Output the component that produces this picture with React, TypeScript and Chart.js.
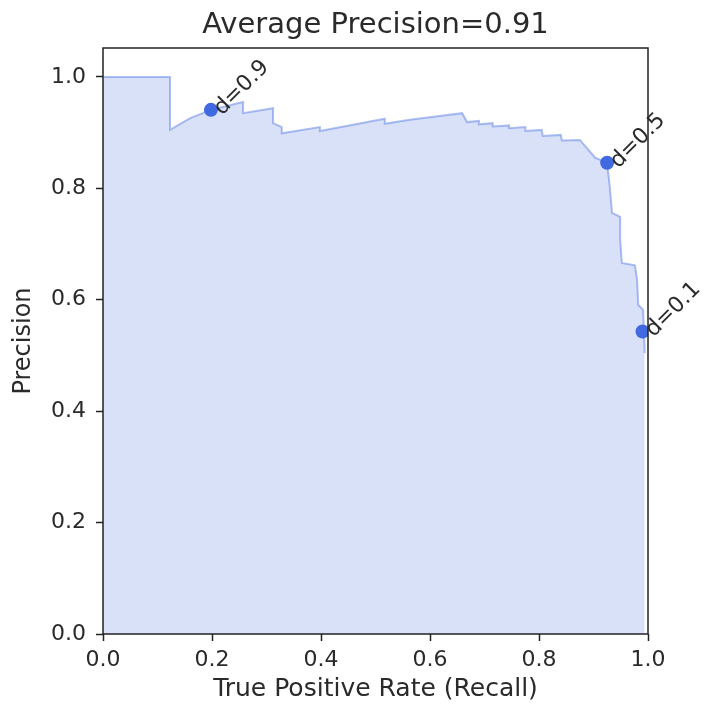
import React, { useEffect, useRef } from "react";
import { Chart, registerables } from "chart.js";

Chart.register(...registerables);

const recall = [
  0, 0.123, 0.123, 0.16, 0.198, 0.257, 0.257, 0.312, 0.312, 0.328, 0.328, 0.398, 0.398,
  0.517, 0.517, 0.563, 0.659, 0.668, 0.69, 0.69, 0.715, 0.715, 0.745, 0.745, 0.775, 0.775,
  0.805, 0.807, 0.84, 0.842, 0.875,
  0.903, 0.925, 0.927, 0.93, 0.934, 0.949, 0.949, 0.952, 0.976, 0.98, 0.982, 0.991, 0.994,
];
const precision = [
  1.0, 1.0, 0.905, 0.926, 0.941, 0.955, 0.935, 0.944, 0.917, 0.91, 0.899, 0.91, 0.903,
  0.925, 0.916, 0.923, 0.935, 0.919, 0.921, 0.915, 0.917, 0.911, 0.913, 0.908, 0.91, 0.903,
  0.905, 0.894, 0.896, 0.886, 0.887,
  0.855, 0.846, 0.828, 0.802, 0.756, 0.749, 0.707, 0.666, 0.662, 0.636, 0.591, 0.582, 0.504,
];

const thresholdLabels = ["d=0.9", "d=0.5", "d=0.1"];
const thresholdRecall = [0.198, 0.925, 0.99];
const thresholdPrecision = [0.941, 0.846, 0.543];

const xTicks = [0, 0.2, 0.4, 0.6, 0.8, 1.0];
const yTicks = [0, 0.2, 0.4, 0.6, 0.8, 1.0];

const titleText = "Average Precision=0.91";
const xTitle = "True Positive Rate (Recall)";
const yTitle = "Precision";

const FONT = "'DejaVu Sans', sans-serif";
const TEXT = "#2a2a2a";

export default function App() {
  const ref = useRef<HTMLCanvasElement | null>(null);

  useEffect(() => {
    if (!ref.current) return;

    const framePlugin = {
      id: "frame",
      afterDatasetsDraw(chart: any) {
        const { ctx, chartArea } = chart;
        ctx.save();
        ctx.strokeStyle = "#222";
        ctx.lineWidth = 1.5;
        ctx.strokeRect(chartArea.left, chartArea.top, chartArea.right - chartArea.left, chartArea.bottom - chartArea.top);
        ctx.restore();
        const meta = chart.getDatasetMeta(1);
        ctx.save();
        ctx.fillStyle = TEXT;
        ctx.font = `22px ${FONT}`;
        ctx.textAlign = "left";
        ctx.textBaseline = "middle";
        meta.data.forEach((el: any, i: number) => {
          ctx.save();
          ctx.translate(el.x + 7, el.y + 2);
          ctx.rotate(-Math.PI / 4);
          ctx.fillText(thresholdLabels[i], 0, 0);
          ctx.restore();
        });
        ctx.restore();
      },
    };

    const chart = new Chart(ref.current, {
      type: "scatter",
      data: {
        datasets: [
          {
            data: recall.map((r, i) => ({ x: r, y: precision[i] })),
            showLine: true,
            borderColor: "rgba(65,105,225,0.42)",
            backgroundColor: "rgba(65,105,225,0.2)",
            borderWidth: 2,
            pointRadius: 0,
            fill: "origin",
            tension: 0,
          },
          {
            data: thresholdRecall.map((r, i) => ({ x: r, y: thresholdPrecision[i] })),
            showLine: false,
            pointRadius: 7,
            pointBackgroundColor: "#4169e1",
            pointBorderWidth: 0,
            backgroundColor: "#4169e1",
            clip: 0,
          },
        ],
      },
      options: {
        responsive: false,
        animation: false,
        layout: { padding: { left: 0, right: 60, top: 0, bottom: 0 } },
        plugins: {
          legend: { display: false },
          tooltip: { enabled: false },
          title: {
            display: true,
            text: titleText,
            fullSize: false,
            color: TEXT,
            font: { family: FONT, size: 29, weight: "normal" },
            padding: { top: 7.6, bottom: 5.6 },
          },
        },
        scales: {
          x: {
            type: "linear",
            min: 0,
            max: 1,
            afterBuildTicks: (s: any) => {
              s.ticks = xTicks.map((v) => ({ value: v }));
            },
            afterFit: (s: any) => {
              s.height = 70;
            },
            ticks: {
              color: TEXT,
              font: { family: FONT, size: 22 },
              padding: 6,
              callback: (v: any) => Number(v).toFixed(1),
            },
            grid: { drawOnChartArea: false, tickLength: 7, color: "#222", tickWidth: 1.5 },
            border: { display: false },
            title: {
              display: true,
              text: xTitle,
              color: TEXT,
              font: { family: FONT, size: 25 },
              padding: { top: 0, bottom: 0 },
            },
          },
          y: {
            type: "linear",
            min: 0,
            max: 1.052,
            afterBuildTicks: (s: any) => {
              s.ticks = yTicks.map((v) => ({ value: v }));
            },
            afterFit: (s: any) => {
              s.width = 103;
            },
            ticks: {
              color: TEXT,
              font: { family: FONT, size: 22 },
              padding: 10,
              callback: (v: any) => Number(v).toFixed(1),
            },
            grid: { drawOnChartArea: false, tickLength: 7, color: "#222", tickWidth: 1.5 },
            border: { display: false },
            title: {
              display: true,
              text: yTitle,
              color: TEXT,
              font: { family: FONT, size: 24 },
              padding: { top: 9, bottom: 0 },
            },
          },
        },
      },
      plugins: [framePlugin],
    } as any);

    return () => chart.destroy();
  }, []);

  return (
    <div style={{ position: "fixed", left: 0, top: 0, width: 708, height: 704, background: "#fff" }}>
      <canvas ref={ref} width={708} height={704} style={{ width: 708, height: 704, display: "block" }} />
    </div>
  );
}
